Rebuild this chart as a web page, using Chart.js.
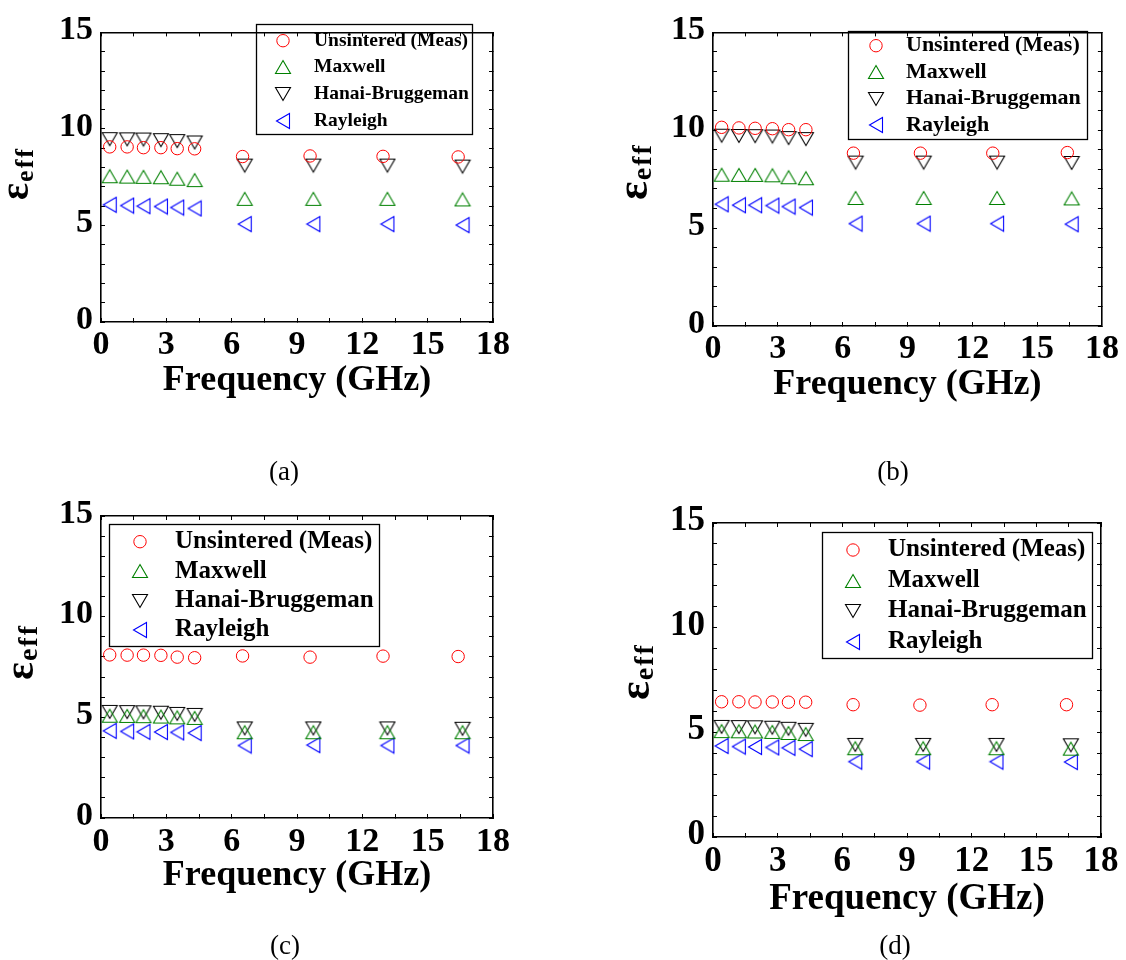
<!DOCTYPE html>
<html>
<head>
<meta charset="utf-8">
<script src="https://cdn.jsdelivr.net/npm/chart.js@4/dist/chart.umd.min.js"></script>
<style>
  html, body { margin: 0; padding: 0; background: #fff; }
  #wrap { position: relative; width: 1126px; height: 960px; overflow: hidden; background: #fff; }
  .panel { position: absolute; width: 563px; height: 480px; }
  .panel canvas { display: block; }
  .cap { position: absolute; width: 100px; text-align: center; color: #000;
         font-family: 'Liberation Serif', 'Times New Roman', serif; font-size: 27px; line-height: 30px; }
</style>
</head>
<body>
<div id="wrap">
  <div class="panel" style="left:0px;top:0px"><canvas id="chartA" width="563" height="480"></canvas></div>
  <div class="panel" style="left:563px;top:0px"><canvas id="chartB" width="563" height="480"></canvas></div>
  <div class="panel" style="left:0px;top:480px"><canvas id="chartC" width="563" height="480"></canvas></div>
  <div class="panel" style="left:563px;top:480px"><canvas id="chartD" width="563" height="480"></canvas></div>
  <div class="cap" style="left:234px;top:456px">(a)</div>
  <div class="cap" style="left:843px;top:456px">(b)</div>
  <div class="cap" style="left:235px;top:930px">(c)</div>
  <div class="cap" style="left:845px;top:930px">(d)</div>
</div>
<script>
// ---- data: frequency points (GHz) ----
const freqMeas  = [0.4, 1.2, 1.95, 2.75, 3.5, 4.3, 6.5, 9.6, 12.95, 16.4];
const freqModel = [0.4, 1.2, 1.95, 2.75, 3.5, 4.3, 6.6, 9.75, 13.15, 16.6];

const seriesNames = ['Unsintered (Meas)', 'Maxwell', 'Hanai-Bruggeman', 'Rayleigh'];
const xTickLabels = [0, 3, 6, 9, 12, 15, 18];
const yTickLabels = [0, 5, 10, 15];
const xAxisTitle = 'Frequency (GHz)';
const yAxisSymbol = 'ε';
const yAxisSub = 'eff';
const panelCaptions = ['(a)', '(b)', '(c)', '(d)'];

// panel (a)
const measA     = [9.07, 9.07, 9.03, 9.03, 8.98, 8.97, 8.57, 8.60, 8.58, 8.55];
const maxwellA  = [7.55, 7.53, 7.52, 7.50, 7.42, 7.35, 6.38, 6.38, 6.38, 6.35];
const hanaiA    = [9.47, 9.46, 9.45, 9.42, 9.37, 9.30, 8.10, 8.10, 8.10, 8.05];
const rayleighA = [6.07, 6.03, 6.00, 5.98, 5.93, 5.88, 5.07, 5.07, 5.07, 5.02];

// panel (b)
const measB     = [10.15, 10.12, 10.10, 10.08, 10.03, 10.03, 8.83, 8.83, 8.83, 8.86];
const maxwellB  = [7.73, 7.72, 7.72, 7.70, 7.60, 7.55, 6.54, 6.54, 6.54, 6.52];
const hanaiB    = [9.72, 9.71, 9.70, 9.68, 9.60, 9.55, 8.35, 8.35, 8.35, 8.33];
const rayleighB = [6.22, 6.17, 6.17, 6.15, 6.10, 6.05, 5.23, 5.23, 5.23, 5.20];

// panel (c)
const measC     = [8.10, 8.09, 8.09, 8.08, 7.99, 7.96, 8.05, 7.99, 8.04, 8.02];
const maxwellC  = [5.08, 5.07, 5.06, 5.04, 5.00, 4.97, 4.26, 4.26, 4.26, 4.26];
const hanaiC    = [5.27, 5.26, 5.25, 5.23, 5.17, 5.12, 4.45, 4.45, 4.45, 4.43];
const rayleighC = [4.33, 4.30, 4.28, 4.27, 4.25, 4.22, 3.60, 3.62, 3.60, 3.60];

// panel (d)
const measD     = [6.46, 6.46, 6.45, 6.45, 6.44, 6.44, 6.32, 6.30, 6.32, 6.32];
const maxwellD  = [5.06, 5.05, 5.04, 5.02, 4.97, 4.92, 4.24, 4.24, 4.24, 4.22];
const hanaiD    = [5.26, 5.25, 5.24, 5.22, 5.17, 5.12, 4.40, 4.40, 4.40, 4.38];
const rayleighD = [4.35, 4.32, 4.30, 4.28, 4.26, 4.20, 3.60, 3.60, 3.60, 3.58];

// ---- styling ----
const seriesColors = ['#ff0000', '#008000', '#000000', '#0000ff'];
const SERIF = "'Liberation Serif', 'Times New Roman', serif";

// open triangle markers, centred on their bounding box
function triangleMarker(dir, color) {
  const c = document.createElement('canvas');
  const horiz = dir === 'left';
  c.width = horiz ? 16 : 18;
  c.height = horiz ? 18 : 16;
  const g = c.getContext('2d');
  g.strokeStyle = color;
  g.lineWidth = 1.1;
  g.beginPath();
  if (dir === 'up') { g.moveTo(9, 1.5); g.lineTo(16.5, 14.5); g.lineTo(1.5, 14.5); }
  else if (dir === 'down') { g.moveTo(1.5, 1.5); g.lineTo(16.5, 1.5); g.lineTo(9, 14.5); }
  else { g.moveTo(1.5, 9); g.lineTo(14.5, 1.5); g.lineTo(14.5, 16.5); }
  g.closePath();
  g.stroke();
  return c;
}
const markerStyles = ['circle',
  triangleMarker('up', seriesColors[1]),
  triangleMarker('down', seriesColors[2]),
  triangleMarker('left', seriesColors[3])];

function buildDatasets(meas, maxw, hanai, rayl) {
  const sets = [[freqMeas, meas], [freqModel, maxw], [freqModel, hanai], [freqModel, rayl]];
  return sets.map(([fx, vals], i) => ({
    label: seriesNames[i],
    data: fx.map((f, k) => ({ x: f, y: vals[k] })),
    pointStyle: markerStyles[i],
    pointRadius: 6.2,
    pointHoverRadius: 6.2,
    pointBorderWidth: 1,
    borderColor: seriesColors[i],
    backgroundColor: 'rgba(0,0,0,0)',
    showLine: false
  }));
}

// legend box, y-axis symbol with subscript
const decorPlugin = {
  id: 'decor',
  afterDraw(chart, args, o) {
    const ctx = chart.ctx;
    ctx.save();
    const lg = o.legend;
    ctx.strokeStyle = '#000';
    ctx.lineWidth = 1.3;
    ctx.strokeRect(lg.x + 0.5, lg.y + 0.5, lg.w, lg.h);
    ctx.font = `bold ${lg.font}px ${SERIF}`;
    ctx.textBaseline = 'middle';
    ctx.textAlign = 'left';
    chart.data.datasets.forEach((ds, i) => {
      const y = lg.row0 + i * lg.gap;
      const st = ds.pointStyle;
      if (st === 'circle') {
        ctx.beginPath();
        ctx.strokeStyle = ds.borderColor;
        ctx.lineWidth = 1;
        ctx.arc(lg.markX, y, ds.pointRadius, 0, Math.PI * 2);
        ctx.stroke();
      } else {
        ctx.drawImage(st, Math.round(lg.markX - st.width / 2), Math.round(y - st.height / 2));
      }
      ctx.fillStyle = '#000';
      ctx.fillText(ds.label, lg.textX, y);
    });

    // rotated y-axis title: epsilon with "eff" subscript
    const yt = o.ytitle;
    ctx.translate(yt.x, yt.y);
    ctx.rotate(-Math.PI / 2);
    ctx.fillStyle = '#000';
    ctx.textBaseline = 'alphabetic';
    ctx.font = `bold ${yt.eps}px ${SERIF}`;
    ctx.fillText(yAxisSymbol, 0, 0);
    const w = ctx.measureText(yAxisSymbol).width;
    ctx.font = `bold ${yt.sub}px ${SERIF}`;
    if ('letterSpacing' in ctx) ctx.letterSpacing = yt.spacing + 'px';
    ctx.fillText(yAxisSub, w + 1, yt.shift);
    ctx.restore();
  }
};

// per-panel layout (canvas coordinates)
const panels = [
  { id: 'chartA', data: [measA, maxwellA, hanaiA, rayleighA],
    area: { l: 101, r: 493, t: 22, b: 322 }, tickFont: 34, titleFont: 36, labelOff: 23.5, titleOff: 58.5,
    legend: { x: 256, y: 24, w: 216, h: 110, markX: 283, textX: 314, row0: 40.7, gap: 26.7, font: 19.5 },
    ytitle: { x: 28, y: 200, eps: 40, sub: 26, shift: 5, spacing: 2 } },
  { id: 'chartB', data: [measB, maxwellB, hanaiB, rayleighB],
    area: { l: 150, r: 541, t: 24, b: 326 }, tickFont: 34, titleFont: 36, labelOff: 23.5, titleOff: 58.5,
    legend: { x: 285, y: 31, w: 239, h: 108, markX: 313, textX: 343, row0: 45.7, gap: 26.4, font: 22 },
    ytitle: { x: 84, y: 200, eps: 44, sub: 28, shift: 4, spacing: 2 } },
  { id: 'chartC', data: [measC, maxwellC, hanaiC, rayleighC],
    area: { l: 101, r: 493, t: 36, b: 338 }, tickFont: 34, titleFont: 36, labelOff: 24, titleOff: 57.5,
    legend: { x: 109, y: 44, w: 270, h: 122, markX: 140, textX: 175, row0: 61.7, gap: 29.4, font: 25 },
    ytitle: { x: 33, y: 200, eps: 42, sub: 28, shift: 4, spacing: 2 } },
  { id: 'chartD', data: [measD, maxwellD, hanaiD, rayleighD],
    area: { l: 150, r: 541, t: 43, b: 357 }, tickFont: 35, titleFont: 37, labelOff: 24.5, titleOff: 62,
    legend: { x: 259, y: 52, w: 270, h: 126, markX: 290, textX: 325, row0: 70, gap: 30.5, font: 25 },
    ytitle: { x: 86, y: 220, eps: 44, sub: 28, shift: 4, spacing: 2 } }
];

const W = 563, H = 480, TICK = -4;

function makeScales(p) {
  const tickGrid = { drawOnChartArea: false, drawTicks: true, tickLength: TICK, color: '#000', lineWidth: 1 };
  const border = { display: true, color: '#000', width: 1.6 };
  const tickFont = { family: SERIF, weight: 'bold', size: p.tickFont };
  const titleFont = { family: SERIF, weight: 'bold', size: p.titleFont };
  const tickLH = p.tickFont * 1.2, titleLH = p.titleFont * 1.2;
  return {
    x: {
      type: 'linear', position: 'bottom', min: 0, max: 18, border, grid: tickGrid,
      ticks: { stepSize: 1.5, autoSkip: false, maxRotation: 0, color: '#000', font: tickFont,
               padding: p.labelOff - TICK - tickLH / 2,
               callback: v => xTickLabels.includes(v) ? String(v) : '' },
      title: { display: true, text: xAxisTitle, color: '#000', font: titleFont,
               padding: { top: 0, bottom: H - (p.area.b + p.titleOff) - titleLH / 2 } },
      afterFit: s => { s.height = H - p.area.b; }
    },
    y: {
      type: 'linear', position: 'left', min: 0, max: 15, border, grid: tickGrid,
      ticks: { stepSize: 1, autoSkip: false, color: '#000', font: tickFont, padding: 12, labelOffset: -2,
               callback: v => yTickLabels.includes(v) ? String(v) : '' },
      afterFit: s => { s.width = p.area.l; }
    },
    x2: {
      type: 'linear', position: 'top', min: 0, max: 18, border, grid: tickGrid,
      ticks: { display: false, stepSize: 1.5, autoSkip: false },
      afterFit: s => { s.height = 0; }
    },
    y2: {
      type: 'linear', position: 'right', min: 0, max: 15, border, grid: tickGrid,
      ticks: { display: false, stepSize: 1, autoSkip: false },
      afterFit: s => { s.width = 0; }
    }
  };
}

panels.forEach(p => {
  new Chart(document.getElementById(p.id), {
    type: 'scatter',
    data: { datasets: buildDatasets(...p.data) },
    options: {
      responsive: false,
      animation: false,
      devicePixelRatio: 1,
      layout: { padding: { left: 0, top: p.area.t, right: W - p.area.r, bottom: 0 } },
      scales: makeScales(p),
      plugins: {
        legend: { display: false },
        tooltip: { enabled: false },
        decor: { legend: p.legend, ytitle: p.ytitle }
      }
    },
    plugins: [decorPlugin]
  });
});
</script>
</body>
</html>
